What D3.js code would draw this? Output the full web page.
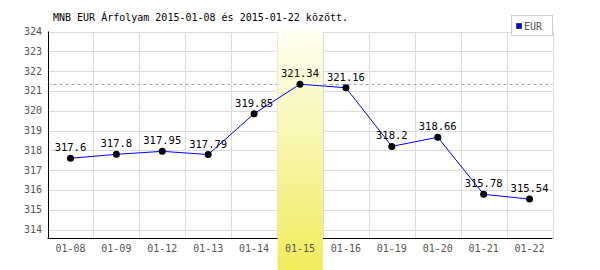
<!DOCTYPE html>
<html>
<head>
<meta charset="utf-8">
<script src="https://cdn.jsdelivr.net/npm/d3@7"></script>
<style>
body { margin: 0; background: #fff; }
svg { display: block; }
text { font-family: "DejaVu Sans Mono", monospace; }
</style>
</head>
<body>
<script>
var w = 600;
var h = 270;

var dates = ["01-08", "01-09", "01-12", "01-13", "01-14", "01-15", "01-16", "01-19", "01-20", "01-21", "01-22"];
var rates = [317.6, 317.8, 317.95, 317.79, 319.85, 321.34, 321.16, 318.2, 318.66, 315.78, 315.54];
var yTicks = [314, 315, 316, 317, 318, 319, 320, 321, 322, 323, 324];
var highlightDate = "01-15";
var title = "MNB EUR Árfolyam 2015-01-08 és 2015-01-22 között.";
var seriesName = "EUR";

// plot box (don't call it "top", window.top is taken)
var pLeft = 47.5, pRight = 552.5, pTop = 31.5, pBottom = 238.5;

var svg = d3.select("body").append("svg")
            .attr("width", w)
            .attr("height", h);

var x = d3.scaleBand().domain(dates).range([pLeft, pRight]);
var y = d3.scaleLinear().domain([313.55, 324]).range([pBottom, pTop]);

var defs = svg.append("defs");
var grad = defs.append("linearGradient")
               .attr("id", "hl")
               .attr("x1", 0).attr("y1", 0).attr("x2", 0).attr("y2", 1);
grad.append("stop").attr("offset", "0%").attr("stop-color", "#fffff4");
grad.append("stop").attr("offset", "100%").attr("stop-color", "#f0ec5c");

// grid
svg.append("g").selectAll("line")
   .data(yTicks).enter()
   .append("line")
   .attr("x1", pLeft).attr("x2", pRight)
   .attr("y1", function(d) { return Math.round(y(d)) + 0.5; })
   .attr("y2", function(d) { return Math.round(y(d)) + 0.5; })
   .attr("stroke", "#dcdcdc");

svg.append("g").selectAll("line")
   .data(dates).enter()
   .append("line")
   .attr("x1", function(d) { return Math.round(x(d) + x.bandwidth()) + 0.5; })
   .attr("x2", function(d) { return Math.round(x(d) + x.bandwidth()) + 0.5; })
   .attr("y1", pTop).attr("y2", pBottom)
   .attr("stroke", "#dcdcdc");

// max line
var maxVal = d3.max(rates);
svg.append("line")
   .attr("x1", pLeft).attr("x2", pRight)
   .attr("y1", Math.round(y(maxVal)) + 0.5)
   .attr("y2", Math.round(y(maxVal)) + 0.5)
   .attr("stroke", "#9999ff")
   .attr("stroke-dasharray", "3,3");

// axes
svg.append("line")
   .attr("x1", pLeft + 1).attr("x2", pLeft + 1)
   .attr("y1", pTop).attr("y2", pBottom)
   .attr("stroke", "#000");
svg.append("line")
   .attr("x1", pLeft).attr("x2", pRight)
   .attr("y1", pBottom).attr("y2", pBottom)
   .attr("stroke", "#000");

// highlight
svg.append("rect")
   .attr("x", x(highlightDate) + 0.5)
   .attr("y", 30)
   .attr("width", x.bandwidth() - 0.5)
   .attr("height", h - 30)
   .attr("fill", "url(#hl)");

// tick labels
svg.append("g").selectAll("text")
   .data(yTicks).enter()
   .append("text")
   .attr("x", 42)
   .attr("y", function(d) { return y(d); })
   .attr("dy", "0.35em")
   .attr("text-anchor", "end")
   .attr("font-size", 10)
   .attr("fill", "#555")
   .text(function(d) { return d; });

svg.append("g").selectAll("text")
   .data(dates).enter()
   .append("text")
   .attr("x", function(d) { return x(d) + x.bandwidth() / 2; })
   .attr("y", 252)
   .attr("text-anchor", "middle")
   .attr("font-size", 10)
   .attr("fill", "#555")
   .text(function(d) { return d; });

// series
var line = d3.line()
             .x(function(d, i) { return x(dates[i]) + x.bandwidth() / 2; })
             .y(function(d) { return y(d); });

svg.append("path")
   .datum(rates)
   .attr("d", line)
   .attr("fill", "none")
   .attr("stroke", "#0000ff")
   .attr("stroke-width", 1);

svg.append("g").selectAll("circle")
   .data(rates).enter()
   .append("circle")
   .attr("cx", function(d, i) { return x(dates[i]) + x.bandwidth() / 2; })
   .attr("cy", function(d) { return y(d); })
   .attr("r", 3.5)
   .attr("fill", "#000");

svg.append("g").selectAll("text")
   .data(rates).enter()
   .append("text")
   .attr("x", function(d, i) { return x(dates[i]) + x.bandwidth() / 2; })
   .attr("y", function(d) { return y(d) - 7; })
   .attr("text-anchor", "middle")
   .attr("font-size", 10.5)
   .attr("fill", "#000")
   .text(function(d) { return d; });

// title
svg.append("text")
   .attr("x", 53)
   .attr("y", 21)
   .attr("font-size", 10)
   .attr("fill", "#000")
   .text(title);

// legend
var lg = svg.append("g");
lg.append("rect")
  .attr("x", 511.5).attr("y", 15.5)
  .attr("width", 41).attr("height", 20)
  .attr("fill", "#fff")
  .attr("stroke", "#d0d0d0");
lg.append("rect")
  .attr("x", 516.5).attr("y", 23.5)
  .attr("width", 5).attr("height", 5)
  .attr("fill", "#0000ff")
  .attr("stroke", "#444");
lg.append("text")
  .attr("x", 524)
  .attr("y", 30)
  .attr("font-family", "Liberation Sans, sans-serif")
  .attr("font-size", 10)
  .attr("fill", "#555")
  .text(seriesName);
</script>
</body>
</html>
